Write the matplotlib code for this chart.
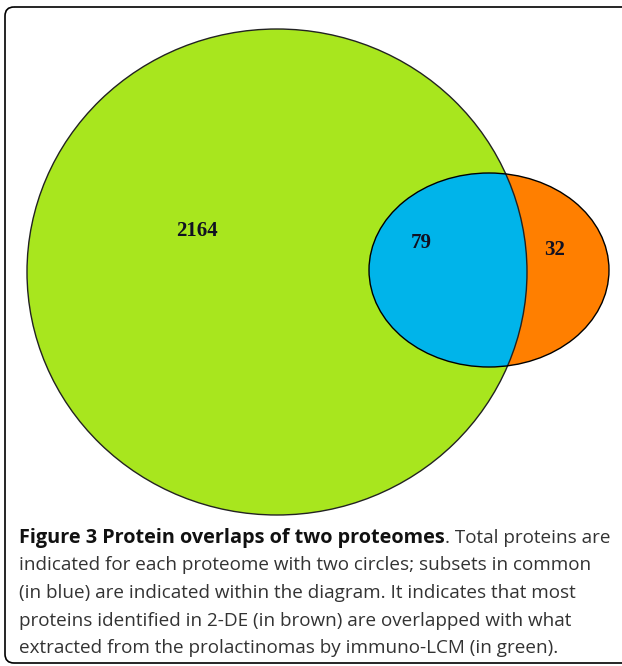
import matplotlib
matplotlib.use("Agg")
import matplotlib.pyplot as plt
from matplotlib.patches import Ellipse, FancyBboxPatch

# region counts: LCM only, shared, 2-DE only
region_labels = ["2164", "79", "32"]

caption_bold = "Figure 3 Protein overlaps of two proteomes"
caption_lines = [
    ". Total proteins are",
    "indicated for each proteome with two circles; subsets in common",
    "(in blue) are indicated within the diagram. It indicates that most",
    "proteins identified in 2-DE (in brown) are overlapped with what",
    "extracted from the prolactinomas by immuno-LCM (in green).",
]

green = "#a8e61e"
blue = "#00b4ea"
orange = "#ff7f00"


def main():
    fig = plt.figure(figsize=(6.22, 6.66), dpi=100)
    ax = fig.add_axes([0, 0, 1, 1])
    ax.set_xlim(0, 622)
    ax.set_ylim(666, 0)
    ax.axis("off")

    # frame round the whole figure (right side runs off the picture)
    frame = FancyBboxPatch((5, 7), 640, 656, boxstyle="round,pad=0,rounding_size=9",
                           fill=False, ec="black", lw=1.2)
    ax.add_patch(frame)

    # big set (immuno-LCM) and small set (2-DE)
    big = Ellipse((277, 272), 500, 486, fc=green, ec="none")
    small = Ellipse((489, 270), 240, 194, fc=orange, ec="none")
    ax.add_patch(big)
    ax.add_patch(small)

    # overlap in blue = small ellipse clipped by the big one
    clip = Ellipse((277, 272), 500, 486, transform=ax.transData)
    inter = Ellipse((489, 270), 240, 194, fc=blue, ec="none")
    ax.add_patch(inter)
    inter.set_clip_path(clip)

    ax.add_patch(Ellipse((277, 272), 500, 486, fill=False, ec="#222222", lw=1.0))
    ax.add_patch(Ellipse((489, 270), 240, 194, fill=False, ec="black", lw=1.0))

    pos = [(197, 231), (421, 243), (555, 250)]
    for (x, y), s in zip(pos, region_labels):
        ax.text(x, y, s, ha="center", va="center", fontsize=15, fontweight="bold",
                family="Liberation Serif", color="#111122")

    # caption
    fs = 13.6
    x0 = 19
    y0 = 538
    step = 27.5
    t = ax.text(x0, y0, caption_bold, fontsize=14.3, fontweight="bold", family="Open Sans",
                va="center", ha="left", color="#111111")
    fig.canvas.draw()
    bb = t.get_window_extent(fig.canvas.get_renderer())
    xe = ax.transData.inverted().transform((bb.x1, bb.y0))[0]
    ax.text(xe, y0, caption_lines[0], fontsize=fs, family="Open Sans",
            va="center", ha="left", color="#333333")
    for i, line in enumerate(caption_lines[1:], start=1):
        ax.text(x0, y0 + i * step, line, fontsize=fs, family="Open Sans",
                va="center", ha="left", color="#333333")

    fig.savefig("out.png", dpi=100)


if __name__ == "__main__":
    main()
